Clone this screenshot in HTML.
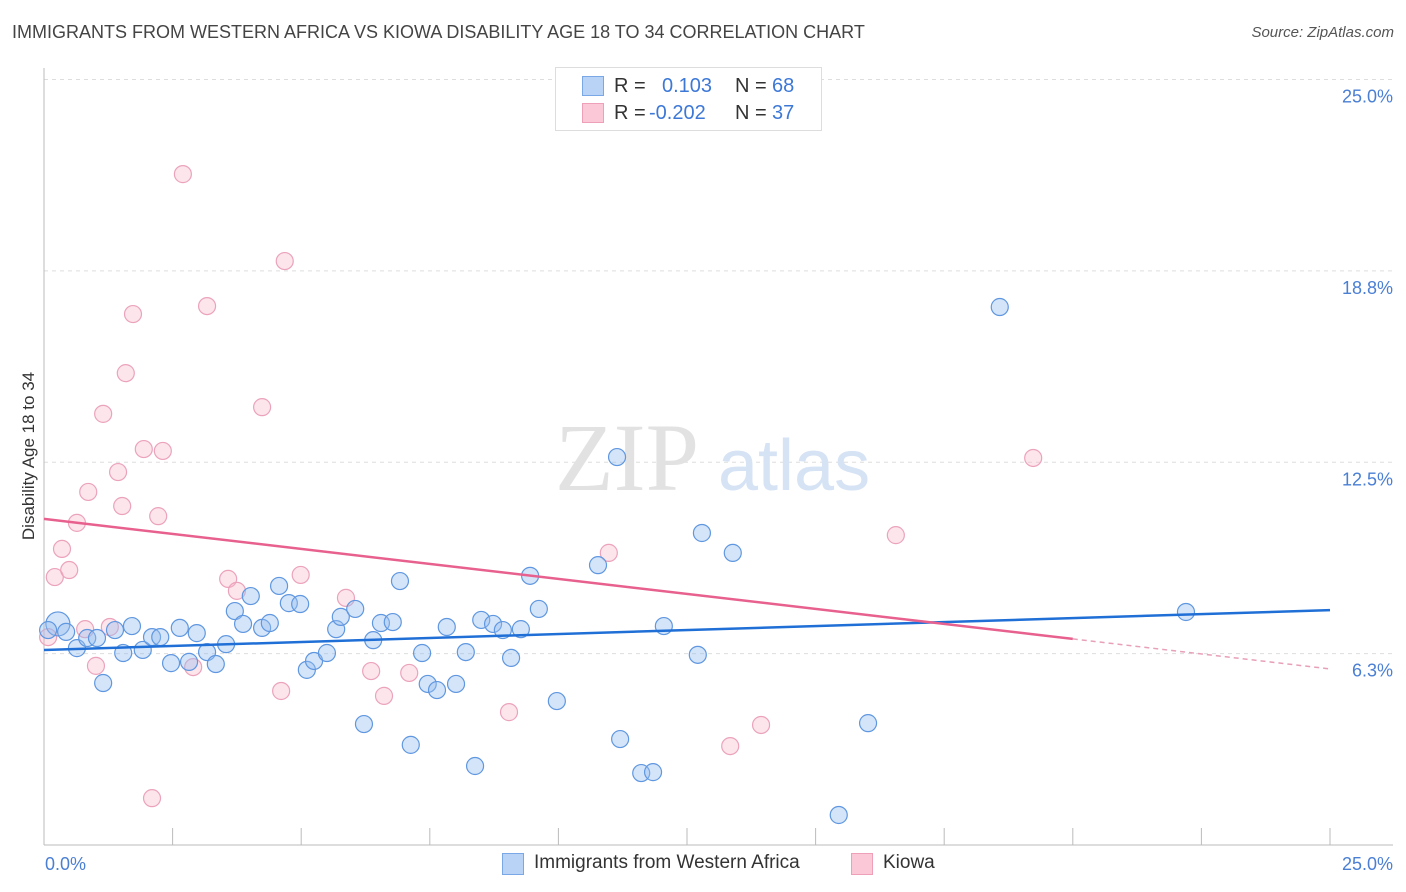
<!DOCTYPE html>
<html><head><meta charset="utf-8"><style>
body{margin:0;background:#fff;font-family:"Liberation Sans",sans-serif;}
#wrap{position:relative;width:1406px;height:892px;overflow:hidden;}
.t{position:absolute;white-space:nowrap;}
</style></head><body>
<div id="wrap">
<div class="t" style="left:12px;top:22px;font-size:18px;color:#444;">IMMIGRANTS FROM WESTERN AFRICA VS KIOWA DISABILITY AGE 18 TO 34 CORRELATION CHART</div>
<div class="t" style="right:12px;top:24px;font-size:15px;color:#555;font-style:italic;">Source: ZipAtlas.com</div>
<svg id="svg" width="1406" height="892" style="position:absolute;left:0;top:0"></svg>
</div>
<script>
const blueX=[0.27,0.43,0.64,0.84,1.03,1.15,1.38,1.54,1.71,1.92,2.10,2.26,2.47,2.64,2.82,2.97,3.17,3.34,3.54,3.71,3.87,4.02,4.24,4.39,4.57,4.76,4.98,5.11,5.25,5.50,5.68,5.77,6.05,6.22,6.40,6.55,6.78,6.92,7.13,7.35,7.46,7.64,7.83,8.01,8.20,8.38,8.50,8.73,8.92,9.08,9.27,9.45,9.62,9.97,10.77,11.14,11.20,11.61,11.84,12.05,12.71,12.79,13.39,15.45,16.02,18.58,22.20,0.08];
const blueY=[7.22,6.96,6.43,6.76,6.76,5.29,7.02,6.27,7.15,6.37,6.79,6.79,5.94,7.09,5.98,6.92,6.30,5.91,6.56,7.64,7.22,8.13,7.09,7.25,8.46,7.90,7.87,5.72,6.01,6.27,7.05,7.45,7.71,3.95,6.69,7.25,7.28,8.62,3.27,6.27,5.26,5.06,7.12,5.26,6.30,2.58,7.35,7.22,7.02,6.11,7.05,8.79,7.71,4.70,9.14,12.67,3.46,2.35,2.38,7.15,6.21,10.19,9.54,0.98,3.98,17.57,7.61,7.02];
const pinkX=[0.08,0.21,0.35,0.49,0.64,0.80,0.86,1.01,1.15,1.28,1.44,1.52,1.59,1.73,1.94,2.10,2.22,2.31,2.70,2.90,3.17,3.58,3.75,4.24,4.61,4.68,4.99,5.87,6.36,6.61,7.10,9.04,10.98,13.34,13.94,16.56,19.23];
const pinkY=[6.79,8.75,9.67,8.98,10.52,7.05,11.53,5.85,14.08,7.12,12.18,11.07,15.41,17.34,12.93,1.53,10.74,12.87,21.91,5.81,17.60,8.69,8.30,14.30,5.03,19.07,8.82,8.07,5.68,4.87,5.62,4.34,9.54,3.23,3.92,10.12,12.64];
const blueTrend=[6.37,7.67];
const pinkTrend=[10.65,5.75];
const pinkSolidEnd=20;
const yTicks=[25.0,18.8,12.5,6.3];
const yTickLabels=["25.0%","18.8%","12.5%","6.3%"];
const xEdgeLabels=["0.0%","25.0%"];
const X=v=>44+v*51.44, Y=v=>845-v*30.62;
const svg=document.getElementById('svg');const NS='http://www.w3.org/2000/svg';
function mk(t,a,p){const e=document.createElementNS(NS,t);for(const k in a)e.setAttribute(k,a[k]);(p||svg).appendChild(e);return e;}
yTicks.forEach((v,i)=>{const yy=Y(v===6.3?6.25:v===18.8?18.75:v);
const g=mk('line',{x1:44,x2:1393,y1:yy,y2:yy,stroke:'#ddd','stroke-dasharray':'4,4'});


const t=mk('text',{x:1393,y:yy+23,'text-anchor':'end','font-size':18,fill:'#4a7fd4','font-family':'Liberation Sans'});


t.textContent=yTickLabels[i];});
let ax=mk('line',{x1:44,x2:44,y1:68,y2:845,stroke:'#bbb'});


let bx=mk('line',{x1:44,x2:1393,y1:845,y2:845,stroke:'#bbb'});


for(let i=0;i<=10;i++){const xx=X(i*2.5);const tk=mk('line',{x1:xx,x2:xx,y1:828,y2:845,stroke:'#bbb'});

}
[[0,'start',45],[1,'end',1393]].forEach(([i,a,x])=>{const t=mk('text',{x:x,y:870,'text-anchor':a,'font-size':18,fill:'#4a7fd4','font-family':'Liberation Sans'});


t.textContent=xEdgeLabels[i];});
const yt=mk('text',{x:34,y:456,'text-anchor':'middle','font-size':17,fill:'#333','font-family':'Liberation Sans',transform:'rotate(-90 34 456)'});


yt.textContent='Disability Age 18 to 34';
const w1=mk('text',{x:555,y:490,'font-size':96,fill:'#e2e2e2','font-family':'Liberation Serif'});


w1.textContent='ZIP';
const w2=mk('text',{x:718,y:490,'font-size':72,fill:'#d6e3f5','font-family':'Liberation Sans'});


w2.textContent='atlas';
pinkX.forEach((v,i)=>{const c=mk('circle',{cx:X(v),cy:Y(pinkY[i]),r:8.5,fill:'rgba(248,180,200,0.35)',stroke:'#eba3bb','stroke-width':1.2});

});
blueX.forEach((v,i)=>{const c=mk('circle',{cx:X(v),cy:Y(blueY[i]),r:(i===0?12:8.5),fill:'rgba(150,190,240,0.4)',stroke:'#5f97e0','stroke-width':1.2});

});
const pAt=x=>pinkTrend[0]+(pinkTrend[1]-pinkTrend[0])*x/25;
let l1=mk('line',{x1:X(0),y1:Y(blueTrend[0]),x2:X(25),y2:Y(blueTrend[1]),stroke:'#1f6fd6','stroke-width':2.5});


let l2=mk('line',{x1:X(0),y1:Y(pAt(0)),x2:X(pinkSolidEnd),y2:Y(pAt(pinkSolidEnd)),stroke:'#e8608e','stroke-width':2.5});


let l3=mk('line',{x1:X(pinkSolidEnd),y1:Y(pAt(pinkSolidEnd)),x2:X(25),y2:Y(pAt(25)),stroke:'#e8a0b8','stroke-width':1.5,'stroke-dasharray':'5,4'});


</script>
<div style="position:absolute;left:555px;top:67px;width:265px;height:62px;border:1px solid #ddd;background:#fff;font-size:20px;">
<div style="position:absolute;left:26px;top:8px;width:20px;height:18px;background:#b8d3f5;border:1px solid #7aa8e6"></div>
<div class="t" style="left:58px;top:7px;color:#333">R =</div><div class="t" style="left:106px;top:7px;color:#3d78d6">0.103</div>
<div class="t" style="left:179px;top:7px;color:#333">N =</div><div class="t" style="left:216px;top:7px;color:#3d78d6">68</div>
<div style="position:absolute;left:26px;top:35px;width:20px;height:18px;background:#fbc8d8;border:1px solid #eea0b8"></div>
<div class="t" style="left:58px;top:34px;color:#333">R =</div><div class="t" style="left:93px;top:34px;color:#3d78d6">-0.202</div>
<div class="t" style="left:179px;top:34px;color:#333">N =</div><div class="t" style="left:216px;top:34px;color:#3d78d6">37</div>
</div>
<div style="position:absolute;left:502px;top:853px;width:20px;height:20px;background:#b8d3f5;border:1px solid #7aa8e6"></div>
<div class="t" style="left:534px;top:852px;font-size:19px;color:#333">Immigrants from Western Africa</div>
<div style="position:absolute;left:851px;top:853px;width:20px;height:20px;background:#fbc8d8;border:1px solid #eea0b8"></div>
<div class="t" style="left:883px;top:852px;font-size:19px;color:#333">Kiowa</div>
</body></html>
